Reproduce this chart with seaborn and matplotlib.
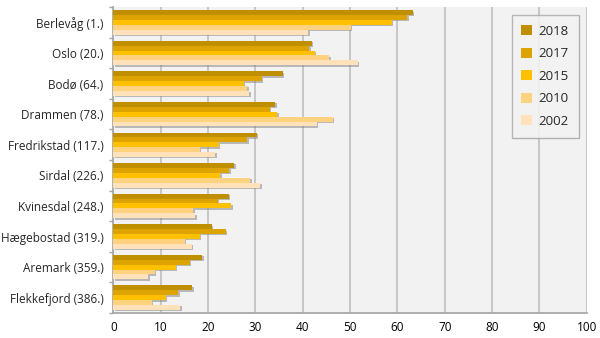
import matplotlib
matplotlib.use("Agg")
import matplotlib.pyplot as plt
import matplotlib.patheffects as pe
import seaborn as sns
import pandas as pd

categories = ["Berlevåg (1.)", "Oslo (20.)", "Bodø (64.)", "Drammen (78.)",
              "Fredrikstad (117.)", "Sirdal (226.)", "Kvinesdal (248.)",
              "Hægebostad (319.)", "Aremark (359.)", "Flekkefjord (386.)"]
years = ["2018", "2017", "2015", "2010", "2002"]
v2018 = [63.3, 41.9, 35.8, 34.2, 30.3, 25.5, 24.4, 20.8, 18.8, 16.7]
v2017 = [62.1, 41.4, 31.4, 33.0, 28.3, 24.5, 22.1, 23.7, 16.2, 13.7]
v2015 = [58.8, 42.6, 27.5, 34.6, 22.3, 22.6, 24.9, 18.3, 13.2, 11.1]
v2010 = [50.2, 45.6, 28.3, 46.3, 18.3, 28.9, 16.9, 15.1, 8.7, 8.1]
v2002 = [41.2, 51.6, 28.7, 43.0, 21.5, 31.0, 17.3, 16.6, 7.4, 14.1]
colors = ["#BF8F00", "#DDA300", "#FFC000", "#FFD27F", "#FFE2BA"]

series = [v2018, v2017, v2015, v2010, v2002]
rows = []
for y, vals in zip(years, series):
    for c, v in zip(categories, vals):
        rows.append({"Kommune": c, "År": y, "Verdi": v})
df = pd.DataFrame(rows)

sns.set_theme(style="white")
plt.rcParams['font.family'] = ['Open Sans', 'DejaVu Sans']

fig = plt.figure(figsize=(6, 3.38), dpi=100)
ax = fig.add_axes([0.189, 0.074, 0.789, 0.905])
ax.set_facecolor("#F2F2F2")

sns.barplot(data=df, y="Kommune", x="Verdi", hue="År", order=categories,
            hue_order=years, palette=colors, orient="h", width=0.8,
            saturation=1, ax=ax, zorder=3, linewidth=0, edgecolor="none")

for p in ax.patches:
    p.set_path_effects([pe.SimplePatchShadow(offset=(1, -1), shadow_rgbFace="#808080", alpha=0.5),
                        pe.Normal()])

ax.set_xlim(0, 100)
ax.set_xticks(range(0, 101, 10))
ax.xaxis.grid(True, color="#BFBFBF", linewidth=1.2, zorder=0)
ax.set_axisbelow(True)
ax.set_xlabel("")
ax.set_ylabel("")
for s in ["top", "right"]:
    ax.spines[s].set_visible(False)
ax.spines["left"].set_color("#A6A6A6")
ax.spines["bottom"].set_color("#A6A6A6")
ax.tick_params(axis="x", labelsize=8.5, length=0, pad=6, colors="#000000")
ax.tick_params(axis="y", labelsize=8.5, length=0, pad=7)
ax.set_yticks(range(len(categories)))
ax.set_yticks([i - 0.5 for i in range(len(categories) + 1)], minor=True)
ax.tick_params(axis="y", which="minor", length=3, color="#A6A6A6", left=True)
ax.set_ylim(len(categories) - 0.5, -0.5)

handles, labels = ax.get_legend_handles_labels()
leg = ax.legend(handles, labels, loc="upper right", bbox_to_anchor=(0.983, 0.974),
                borderaxespad=0, frameon=True, fancybox=False, shadow=False,
                fontsize=9.5, labelspacing=0.72, handlelength=0.8, handleheight=0.8,
                handletextpad=0.5, borderpad=0.75)
for h in leg.legend_handles:
    h.set_path_effects([])
leg.get_frame().set_edgecolor("#A6A6A6")
leg.get_frame().set_facecolor("white")
leg.get_frame().set_path_effects([pe.SimplePatchShadow(offset=(1, -1), alpha=0.3), pe.Normal()])

fig.savefig("out.png", dpi=100)
